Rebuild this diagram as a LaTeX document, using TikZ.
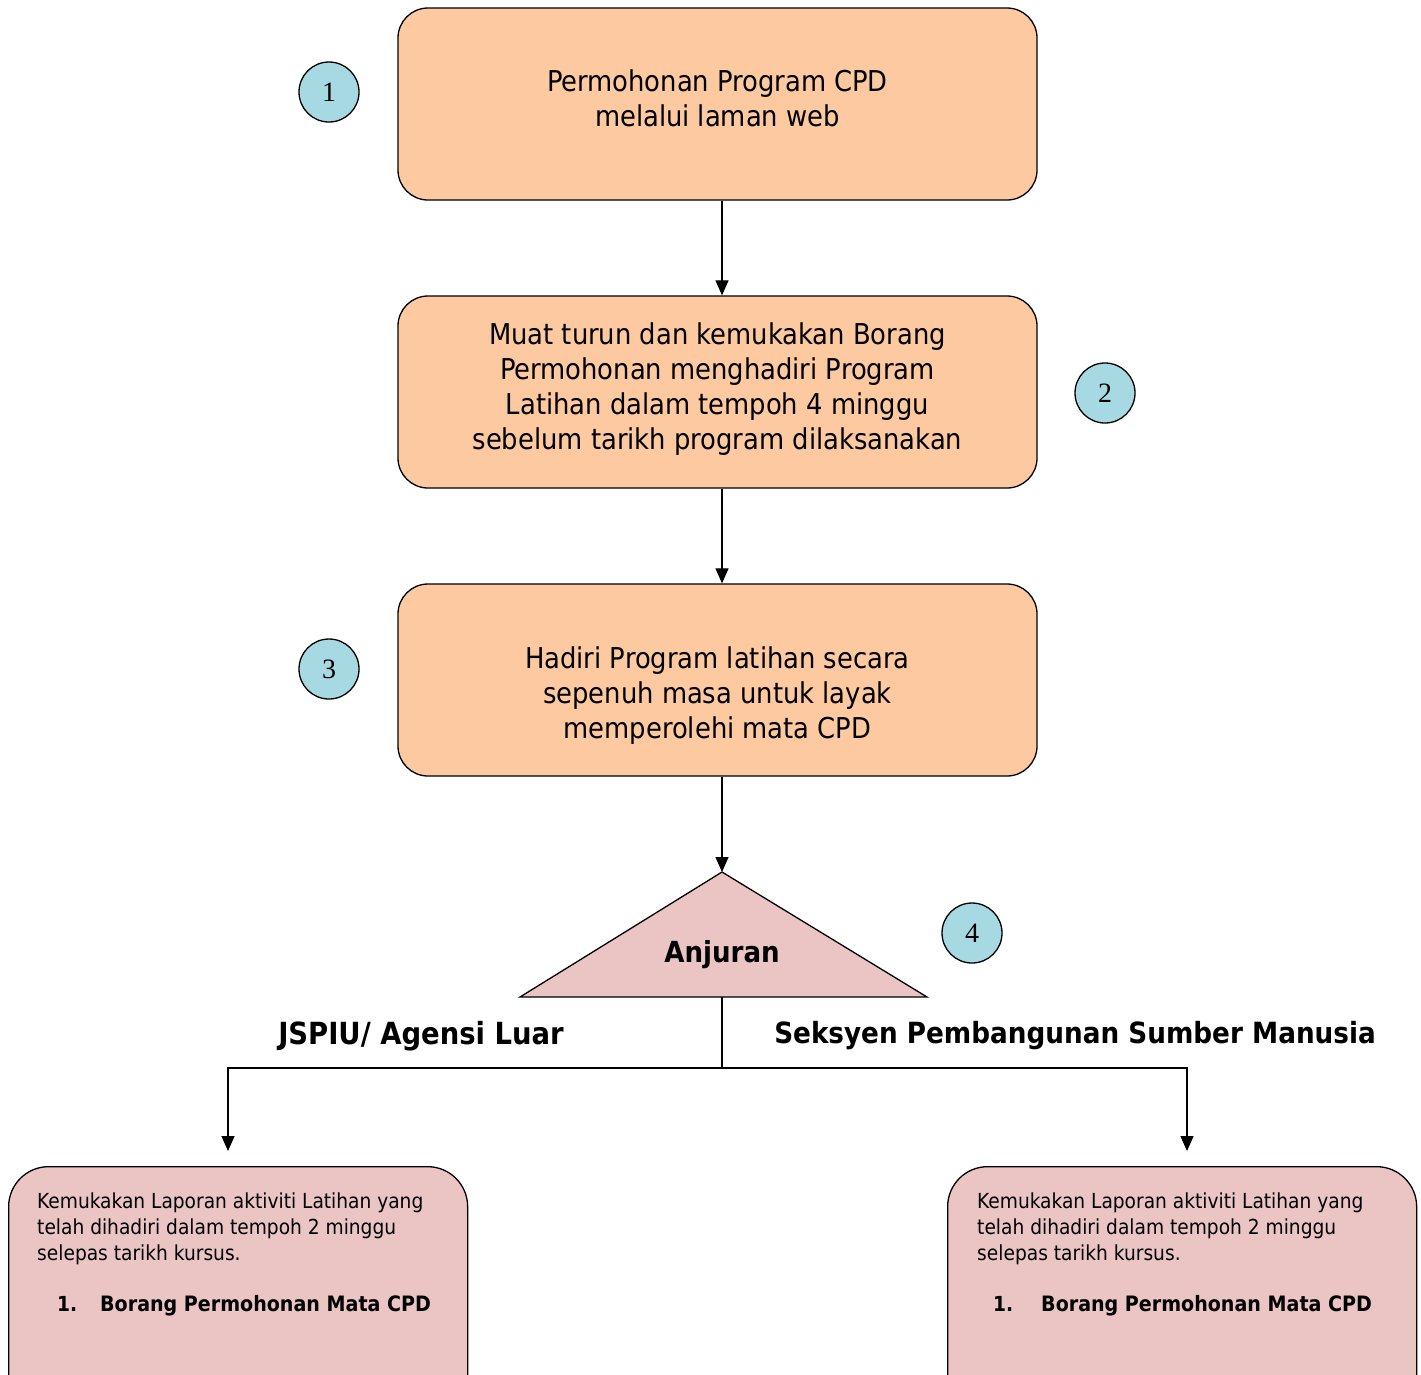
\documentclass[tikz,border=0pt]{standalone}
\usepackage{fontspec}
\setmainfont{DejaVu Sans Condensed}
\newfontfamily\numfont{Liberation Serif}
\usetikzlibrary{arrows.meta}
\definecolor{peach}{HTML}{FDC9A1}
\definecolor{pinkfill}{HTML}{EBC4C4}
\definecolor{bluefill}{HTML}{A6D9E2}
\tikzset{
  stepbox/.style={draw, line width=1.3pt, fill=peach, rounded corners=30pt,
    minimum width=639pt, minimum height=192pt},
  steptext/.style={align=center, inner sep=0pt,
    font=\fontsize{28.7}{35}\selectfont},
  numcirc/.style={draw, line width=1.3pt, fill=bluefill, circle, minimum size=60pt,
    inner sep=0pt, font=\numfont\fontsize{28}{28}\selectfont},
  reportbox/.style={draw, line width=1.3pt, fill=pinkfill, rounded corners=40pt,
    minimum width=459pt, minimum height=260pt, anchor=north west},
  reporttext/.style={anchor=north west, align=left, inner sep=0pt,
    font=\fontsize{20.7}{26}\selectfont},
  branchlabel/.style={font=\bfseries\fontsize{29.5}{32}\selectfont, inner sep=0pt},
  arr/.style={line width=1.2pt, -{Triangle[length=15pt,width=13pt]}},
  conn/.style={line width=1.2pt}
}
\begin{document}
\begin{tikzpicture}[x=1pt,y=-1pt]
\clip (0,0) rectangle (1421,1374);
\fill[white] (0,0) rectangle (1421,1374);

\node[stepbox] (b1) at (717.5,104) {};
\node[stepbox] (b2) at (717.5,392) {};
\node[stepbox] (b3) at (717.5,680) {};
\node[steptext] (b1t) at (717.5,98) {Permohonan Program CPD\\melalui laman web};
\node[steptext] (b2t) at (717.5,389.5) {Muat turun dan kemukakan Borang\\Permohonan menghadiri Program\\Latihan dalam tempoh 4 minggu\\sebelum tarikh program dilaksanakan};
\node[steptext] (b3t) at (717.5,696) {Hadiri Program latihan secara\\sepenuh masa untuk layak\\memperolehi mata CPD};

\node[numcirc] (c1) at (329,92) {1};
\node[numcirc] (c2) at (1105,393) {2};
\node[numcirc] (c3) at (329,669) {3};
\node[numcirc] (c4) at (972,933) {4};

\coordinate (tapex) at (722,872);
\coordinate (tleft) at (520,997);
\coordinate (tright) at (927,997);
\coordinate (tbase) at (722,997);
\draw[line width=1.3pt, fill=pinkfill, line join=miter] (tapex) -- (tright) -- (tleft) -- cycle;
\node[font=\bfseries\fontsize{29}{32}\selectfont] (anj) at (722,955) {Anjuran};

\draw[arr] ([xshift=4.5pt]b1.south) -- ([xshift=4.5pt]b2.north);
\draw[arr] ([xshift=4.5pt]b2.south) -- ([xshift=4.5pt]b3.north);
\draw[arr] ([xshift=4.5pt]b3.south) -- (tapex);

\coordinate (junc) at (722,1068);
\coordinate (lend) at (228,1151);
\coordinate (rend) at (1187,1151);
\draw[conn] (tbase) -- (junc);
\draw[arr] (junc) -| (lend);
\draw[arr] (junc) -| (rend);

\node[branchlabel, font=\bfseries\fontsize{30.5}{32}\selectfont] (lab1) at (421,1036) {JSPIU/ Agensi Luar};
\node[branchlabel, font=\bfseries\fontsize{29.2}{32}\selectfont] (lab2) at (1075,1036) {Seksyen Pembangunan Sumber Manusia};

\node[reportbox] (r1) at (8,1166) {};
\node[reportbox, minimum width=469pt] (r2) at (947,1166) {};

\node[reporttext] (t1) at (37,1193) {Kemukakan Laporan aktiviti Latihan yang\\telah dihadiri dalam tempoh 2 minggu\\selepas tarikh kursus.\\[25pt]
\hspace*{20pt}\makebox[43pt][l]{\bfseries 1.}{\bfseries\fontsize{21.2}{26}\selectfont Borang Permohonan Mata CPD}};
\node[reporttext] (t2) at (977,1193) {Kemukakan Laporan aktiviti Latihan yang\\telah dihadiri dalam tempoh 2 minggu\\selepas tarikh kursus.\\[25pt]
\hspace*{16pt}\makebox[48pt][l]{\bfseries 1.}{\bfseries\fontsize{21.2}{26}\selectfont Borang Permohonan Mata CPD}};
\end{tikzpicture}
\end{document}
